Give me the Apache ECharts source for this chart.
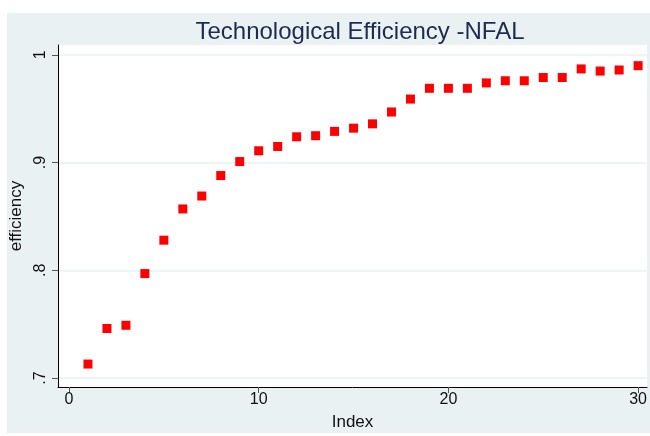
<!DOCTYPE html>
<html>
<head>
<meta charset="utf-8">
<script src="https://cdn.jsdelivr.net/npm/echarts@6/dist/echarts.min.js"></script>
<style>
  html, body { margin: 0; padding: 0; background: #fff; }
  #main { width: 650px; height: 436px; }
</style>
</head>
<body>
<div id="main"></div>
<script>
// efficiency scores by index
var index = [1, 2, 3, 4, 5, 6, 7, 8, 9, 10, 11, 12, 13, 14, 15,
             16, 17, 18, 19, 20, 21, 22, 23, 24, 25, 26, 27, 28, 29, 30];
var efficiency = [0.713, 0.746, 0.749, 0.797, 0.828, 0.857, 0.869, 0.888, 0.901, 0.911,
                  0.915, 0.924, 0.925, 0.929, 0.932, 0.936, 0.947, 0.959, 0.969, 0.969,
                  0.969, 0.974, 0.976, 0.976, 0.979, 0.979, 0.987, 0.985, 0.986, 0.990];
var xTicks = [0, 10, 20, 30];
var yTicks = [0.7, 0.8, 0.9, 1];

var font = 'Liberation Sans, Arial, sans-serif';
var myChart = echarts.init(document.getElementById('main'));

myChart.setOption({
    animation: false,
    graphic: [{
        type: 'rect',
        z: -10,
        shape: { x: 7, y: 13, width: 643, height: 420 },
        style: { fill: '#eaf1f3' }
    }],
    title: {
        text: 'Technological Efficiency -NFAL',
        left: 355,
        top: 15,
        textAlign: 'center',
        textStyle: { fontFamily: font, fontSize: 24, fontWeight: 'normal', color: '#1c2b4f' }
    },
    grid: {
        left: 58, top: 45, right: 0, bottom: 46,
        show: true, backgroundColor: '#ffffff', borderWidth: 0
    },
    xAxis: {
        type: 'value',
        min: -0.58,
        max: 30.47,
        name: 'Index',
        nameLocation: 'middle',
        nameGap: 27,
        nameTextStyle: { fontFamily: font, fontSize: 17, color: '#111' },
        axisLine: { show: true, onZero: false, lineStyle: { color: '#000', width: 1 } },
        axisTick: { show: true, length: 6, customValues: xTicks, lineStyle: { color: '#555' } },
        axisLabel: { customValues: xTicks, fontFamily: font, fontSize: 16, color: '#111', margin: 5 },
        splitLine: { show: false }
    },
    yAxis: {
        type: 'value',
        min: 0.6917,
        max: 1.0092,
        name: 'efficiency',
        nameLocation: 'middle',
        nameGap: 32,
        nameTextStyle: { fontFamily: font, fontSize: 17, color: '#111' },
        axisLine: { show: true, onZero: false, lineStyle: { color: '#000', width: 1 } },
        axisTick: { show: true, length: 6, customValues: yTicks, lineStyle: { color: '#555' } },
        axisLabel: {
            customValues: yTicks,
            rotate: 90,
            fontFamily: font, fontSize: 16, color: '#111', margin: 9,
            formatter: function (v) {
                return v >= 1 ? '1' : ('' + Math.round(v * 10) / 10).replace(/^0/, '');
            }
        },
        splitLine: { show: true, lineStyle: { color: '#eaf1f3', width: 1.5 } }
    },
    series: [{
        type: 'scatter',
        symbol: 'rect',
        symbolSize: 9,
        itemStyle: { color: '#ff0000', opacity: 1 },
        data: index.map(function (x, i) { return [x, efficiency[i]]; })
    }]
});
</script>
</body>
</html>
